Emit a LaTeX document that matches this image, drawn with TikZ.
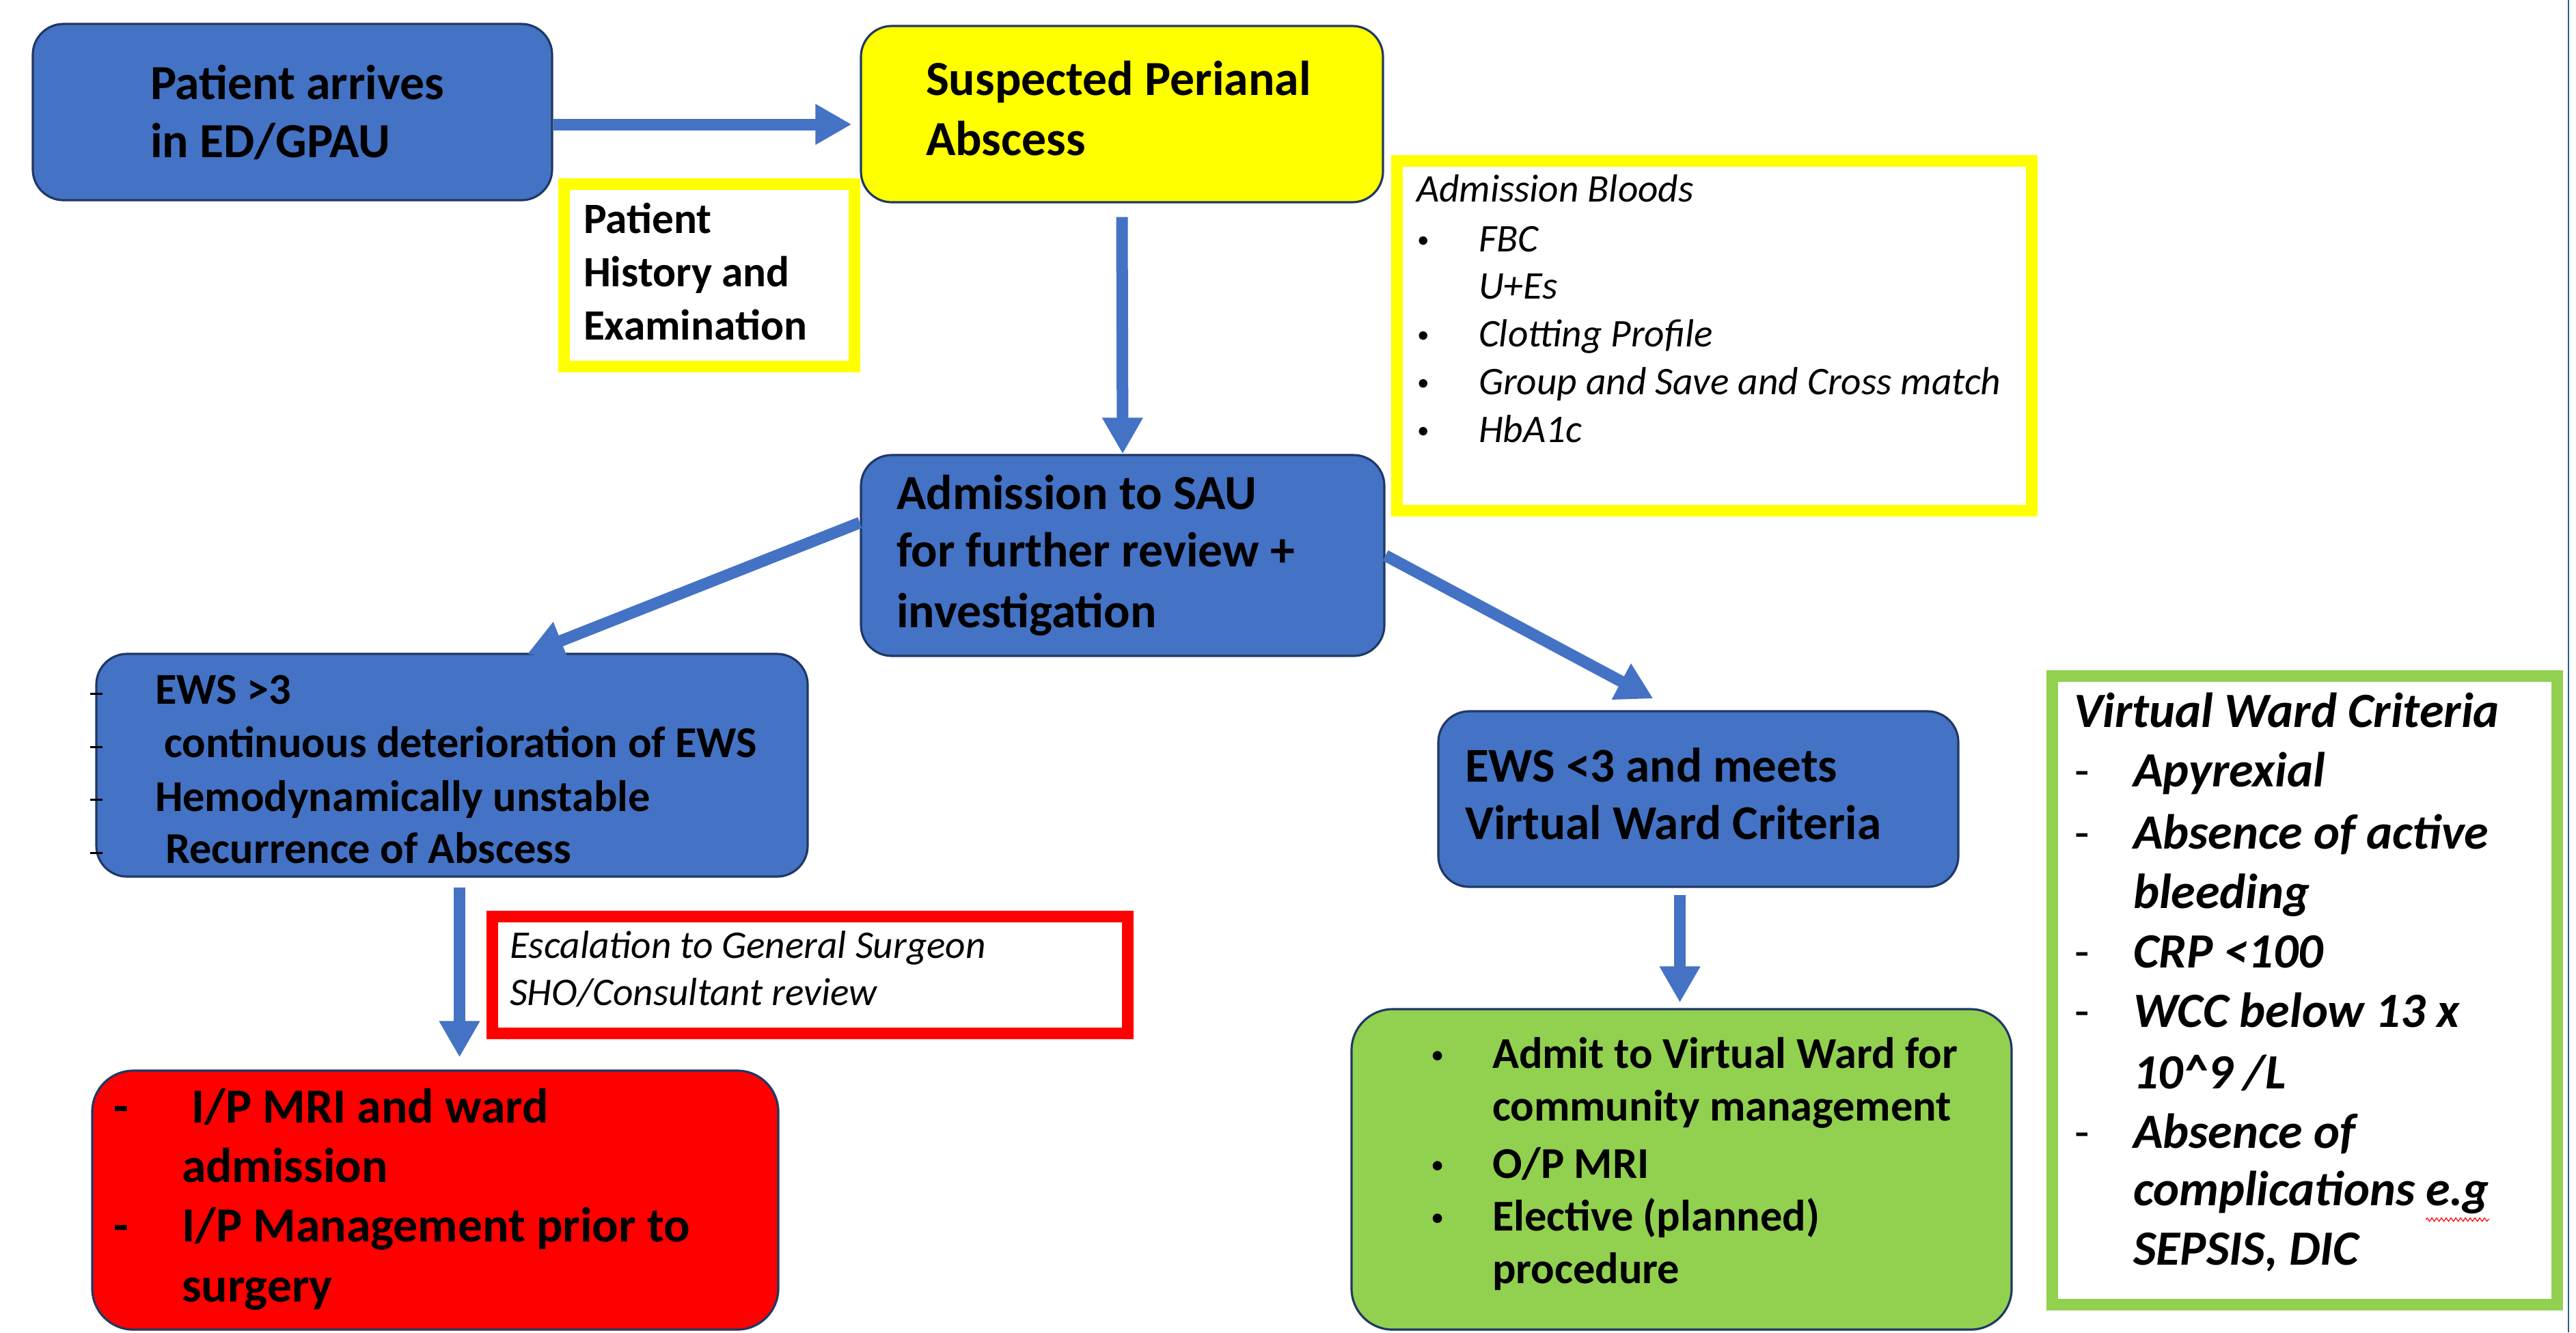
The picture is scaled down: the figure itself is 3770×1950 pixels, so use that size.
\documentclass[tikz,border=0pt]{standalone}
\usepackage{fontspec}
\setmainfont{Carlito}
\usetikzlibrary{arrows.meta,calc,fit,decorations.pathmorphing}
\definecolor{boxblue}{HTML}{4472C4}
\definecolor{edge}{HTML}{1F3864}
\definecolor{ylw}{HTML}{FFFF00}
\definecolor{rd}{HTML}{FF0000}
\definecolor{grn}{HTML}{92D050}
\definecolor{rulecol}{HTML}{1F6391}
\tikzset{
  flow/.style={rounded corners=0.45cm, draw=edge, line width=0.9pt, inner sep=0pt},
  bigflow/.style={flow, rounded corners=0.6cm},
  frame/.style={draw, line width=0.17cm, fill=white, inner sep=0pt},
  arr/.style={draw=boxblue, line width=0.17cm, -{Triangle[length=0.53cm,width=0.56cm]}},
  tx/.style={anchor=base west, inner sep=0pt, outer sep=0pt, text=black},
  bigf/.style={tx, font=\fontsize{20.4}{24}\selectfont\bfseries},
  histf/.style={tx, font=\fontsize{18}{22}\selectfont\bfseries},
  ewsf/.style={tx, font=\fontsize{18.3}{22}\selectfont\bfseries},
  bloodf/.style={tx, font=\fontsize{16.3}{20}\selectfont\itshape},
  bulf/.style={tx, font=\fontsize{10}{12}\selectfont},
  gbulf/.style={tx, font=\fontsize{11}{13}\selectfont},
  ewstf/.style={tx, font=\fontsize{20.2}{24}\selectfont\bfseries},
  grnf/.style={tx, font=\fontsize{18.3}{22}\selectfont\bfseries},
  vwcf/.style={tx, font=\fontsize{20.5}{25}\selectfont\bfseries\itshape},
  dashf/.style={tx, font=\fontsize{20}{24}\selectfont},
}
\begin{document}
\begin{tikzpicture}[x=0.01cm,y=-0.01cm]
\useasboundingbox (0,0) rectangle (3770,1950);
\fill[white] (0,0) rectangle (3770,1950);

% boxes
\node[flow, fill=boxblue, fit={(48,35) (808,293)}] (pa) {};
\node[flow, fill=ylw, fit={(1260,38) (2024,296)}] (sp) {};
\node[frame, draw=ylw, fit={(825.5,269.5) (1250.5,536.5)}] (hist) {};
\node[frame, draw=ylw, fit={(2044.5,235.5) (2973.5,747.5)}] (blood) {};
\node[flow, fill=boxblue, fit={(1260,666) (2026,960)}] (sau) {};
\node[flow, fill=boxblue, fit={(141,957) (1182,1283)}] (ews1) {};
\node[frame, draw=rd, fit={(720.5,1341.5) (1650.5,1512.5)}] (esc) {};
\node[bigflow, fill=rd, fit={(135,1567) (1139,1946)}] (red) {};
\node[flow, fill=boxblue, fit={(2105,1041) (2866,1298)}] (ews2) {};
\node[bigflow, fill=grn, fit={(1978,1477) (2944,1946)}] (green) {};
\node[frame, draw=grn, fit={(3003.5,989.5) (3742.5,1909.5)}] (vwc) {};

% right edge rule
\draw[rulecol, line width=0.028cm] (3759,0) -- (3759,1950);

% connectors
\draw[arr, shorten >=0.12cm] ([yshift=-0.18cm]pa.east) -- ([yshift=-0.18cm]pa.east -| sp.west);
\draw[arr] ([yshift=-0.2cm]sp.south) -- (sau.north);
\draw[arr] ([yshift=0.48cm]sau.west) -- ($(ews1.north)+(110,2)$);
\draw[arr] (sau.east) -- ($(ews2.north)+(-66,-17)$);
\draw[arr] ($(ews1.south)+(11,14)$) -- ($(red.north -| ews1.south)+(11,-18)$);
\draw[arr] ($(ews2.south)+(-27,10)$) -- ($(green.north -| ews2.south)+(-27,-8)$);

% Patient arrives
\node[bigf] (pa1) at (220,145) {Patient arrives};
\node[bigf] (pa2) at (220,230) {in ED/GPAU};
% Suspected
\node[bigf] (sp1) at (1355,139) {Suspected Perianal};
\node[bigf] (sp2) at (1355,227) {Abscess};
% History
\node[histf] (hi1) at (854,341) {Patient};
\node[histf] (hi2) at (854,419) {History and};
\node[histf] (hi3) at (854,497) {Examination};
% Bloods
\node[bloodf] (bl0) at (2073,295) {Admission Bloods};
\foreach \yy/\nn in {368/1,507/3,577/4,647/5} \node[bulf] (bb\nn) at (2074,\yy-6) {•};
\node[bloodf] (bl1) at (2164,368) {FBC};
\node[bloodf] (bl2) at (2164,437) {U+Es};
\node[bloodf] (bl3) at (2164,507) {Clotting Profile};
\node[bloodf] (bl4) at (2164,577) {Group and Save and Cross match};
\node[bloodf] (bl5) at (2164,647) {HbA1c};
% SAU
\node[bigf] (sa1) at (1312,745) {Admission to SAU};
\node[bigf] (sa2) at (1312,829) {for further review +};
\node[bigf] (sa3) at (1312,918) {investigation};
% EWS >3
\foreach \yy in {1015,1093,1170,1248} \draw[black, line width=0.03cm] (132,\yy) -- (150,\yy);
\node[ewsf] (ea1) at (227,1030) {EWS >3};
\node[ewsf] (ea2) at (240,1108) {continuous deterioration of EWS};
\node[ewsf] (ea3) at (227,1187) {Hemodynamically unstable};
\node[ewsf] (ea4) at (242,1263) {Recurrence of Abscess};
% Escalation
\node[bloodf] (es1) at (746,1402) {Escalation to General Surgeon};
\node[bloodf] (es2) at (746,1471) {SHO/Consultant review};
% Red box
\node[bigf] (rd0) at (166,1643) {-};
\node[bigf] (rd9) at (166,1817) {-};
\node[bigf] (rd1) at (280,1643) {I/P MRI and ward};
\node[bigf] (rd2) at (266,1730) {admission};
\node[bigf] (rd3) at (266,1817) {I/P Management prior to};
\node[bigf] (rd4) at (266,1905) {surgery};
% EWS <3
\node[ewstf] (eb1) at (2144,1144) {EWS <3 and meets};
\node[ewstf] (eb2) at (2144,1228) {Virtual Ward Criteria};
% Green
\foreach \yy/\nn in {1563/1,1724/2,1801/3} \node[gbulf] (gb\nn) at (2094,\yy-7) {•};
\node[grnf] (gr1) at (2184,1563) {Admit to Virtual Ward for};
\node[grnf] (gr2) at (2184,1640) {community management};
\node[grnf] (gr3) at (2184,1724) {O/P MRI};
\node[grnf] (gr4) at (2184,1801) {Elective (planned)};
\node[grnf] (gr5) at (2184,1878) {procedure};
% Virtual ward criteria
\node[vwcf] (vc0) at (3035,1064) {Virtual Ward Criteria};
\foreach \yy/\nn in {1151/1,1242/2,1416/3,1503/4,1680/5} \node[dashf] (vd\nn) at (3036,\yy) {-};
\node[vwcf] (vc1) at (3122,1151) {Apyrexial};
\node[vwcf] (vc2) at (3122,1242) {Absence of active};
\node[vwcf] (vc3) at (3122,1329) {bleeding};
\node[vwcf] (vc4) at (3122,1416) {CRP <100};
\node[vwcf] (vc5) at (3122,1503) {WCC below 13 x};
\node[vwcf] (vc6) at (3122,1593) {10\textasciicircum 9 /L};
\node[vwcf] (vc7) at (3122,1680) {Absence of};
\node[vwcf] (vc8) at (3122,1764) {complications};
\node[vwcf] (vc9) at ($(vc8.base east)+(16,0)$) {e.g};
\node[vwcf] (vc10) at (3122,1851) {SEPSIS, DIC};
\draw[rd, line width=0.012cm, decorate, decoration={zigzag, amplitude=0.025cm, segment length=0.07cm}]
  ($(vc9.base west)+(0,21)$) -- ($(vc9.base east)+(0,21)$);
\end{tikzpicture}
\end{document}
